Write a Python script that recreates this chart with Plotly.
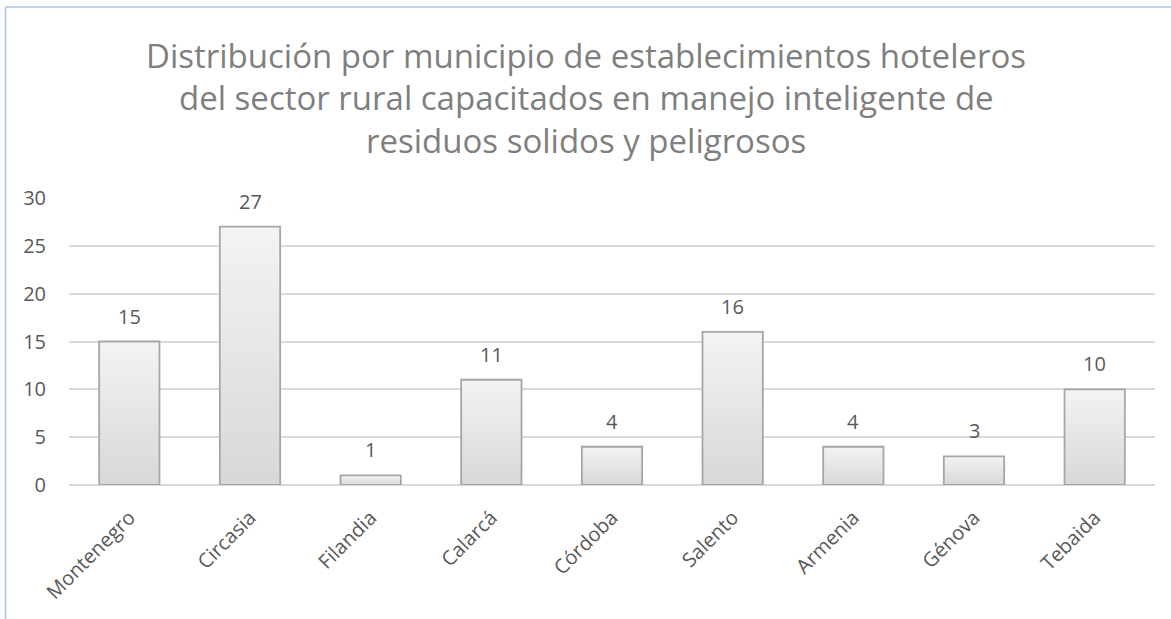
import plotly.graph_objects as go

categories = ["Montenegro", "Circasia", "Filandia", "Calarcá", "Córdoba",
              "Salento", "Armenia", "Génova", "Tebaida"]
values = [15, 27, 1, 11, 4, 16, 4, 3, 10]
title_lines = [
    "Distribución por municipio de establecimientos hoteleros",
    "del sector rural capacitados en manejo inteligente de",
    "residuos solidos y peligrosos",
]
y_ticks = [0, 5, 10, 15, 20, 25, 30]

W, H = 1171, 619
L, R, T, B = 69, 16, 198, 134
PW, PH = W - L - R, H - T - B

def px_x(px):
    return (px - L) / PW

def px_y(py):
    return (H - py - B) / PH

FONT = "Open Sans"
TXT = "#595959"

fig = go.Figure()

# gradient fill: each layer runs from its base to the bar top, lighter layers on top
N = 30
top_rgb = (243, 243, 243)
bot_rgb = (216, 216, 216)
for k in range(N):
    t = k / (N - 1)
    c = tuple(round(bot_rgb[i] + (top_rgb[i] - bot_rgb[i]) * t) for i in range(3))
    fig.add_trace(go.Bar(
        x=categories,
        y=[v * (N - k) / N for v in values],
        base=[v * k / N for v in values],
        marker=dict(color="rgb(%d,%d,%d)" % c, line=dict(width=0)),
        width=0.5, showlegend=False, hoverinfo="skip",
    ))

# outline
fig.add_trace(go.Bar(
    x=categories, y=values,
    marker=dict(color="rgba(0,0,0,0)", line=dict(color="#a6a6a6", width=1.8)),
    width=0.5, showlegend=False,
))

for c, v in zip(categories, values):
    fig.add_annotation(x=c, y=v, text=str(v), showarrow=False,
                       yanchor="bottom", yshift=10,
                       font=dict(family=FONT, size=20, color=TXT))

title_mid = [55, 97, 140]
for line, py in zip(title_lines, title_mid):
    fig.add_annotation(x=px_x(586), y=px_y(py), xref="paper", yref="paper",
                       text=line, showarrow=False, xanchor="center", yanchor="middle",
                       font=dict(family=FONT, size=33, color="#7f7f7f"))

# chart border (left and top edges visible)
border = "#a9c6e8"
fig.add_shape(type="line", xref="paper", yref="paper",
              x0=px_x(5.5), x1=px_x(5.5), y0=px_y(640), y1=px_y(7),
              line=dict(color=border, width=1.6))
fig.add_shape(type="line", xref="paper", yref="paper",
              x0=px_x(5.5), x1=px_x(1200), y0=px_y(7), y1=px_y(7),
              line=dict(color=border, width=1.6))

fig.update_layout(
    width=W, height=H,
    margin=dict(l=L, r=R, t=T, b=B, autoexpand=False),
    paper_bgcolor="white", plot_bgcolor="white",
    barmode="overlay",
    font=dict(family=FONT, color=TXT, size=20),
)
fig.update_xaxes(
    tickangle=-45, tickfont=dict(family=FONT, size=20, color=TXT),
    showgrid=False, showline=False, ticks="", ticklabelstandoff=16,
)
fig.update_yaxes(
    range=[0, 30], tickvals=y_ticks, showgrid=True, gridcolor="#d9d9d9",
    gridwidth=1.5, zeroline=True, zerolinecolor="#d9d9d9", zerolinewidth=1.5,
    tickfont=dict(family=FONT, size=20, color=TXT), ticks="", ticklabelstandoff=22,
    showline=False,
)

fig.write_html("out.html", config={"displayModeBar": False},
               post_script="document.body.style.margin='0px';document.body.style.overflow='hidden';")
